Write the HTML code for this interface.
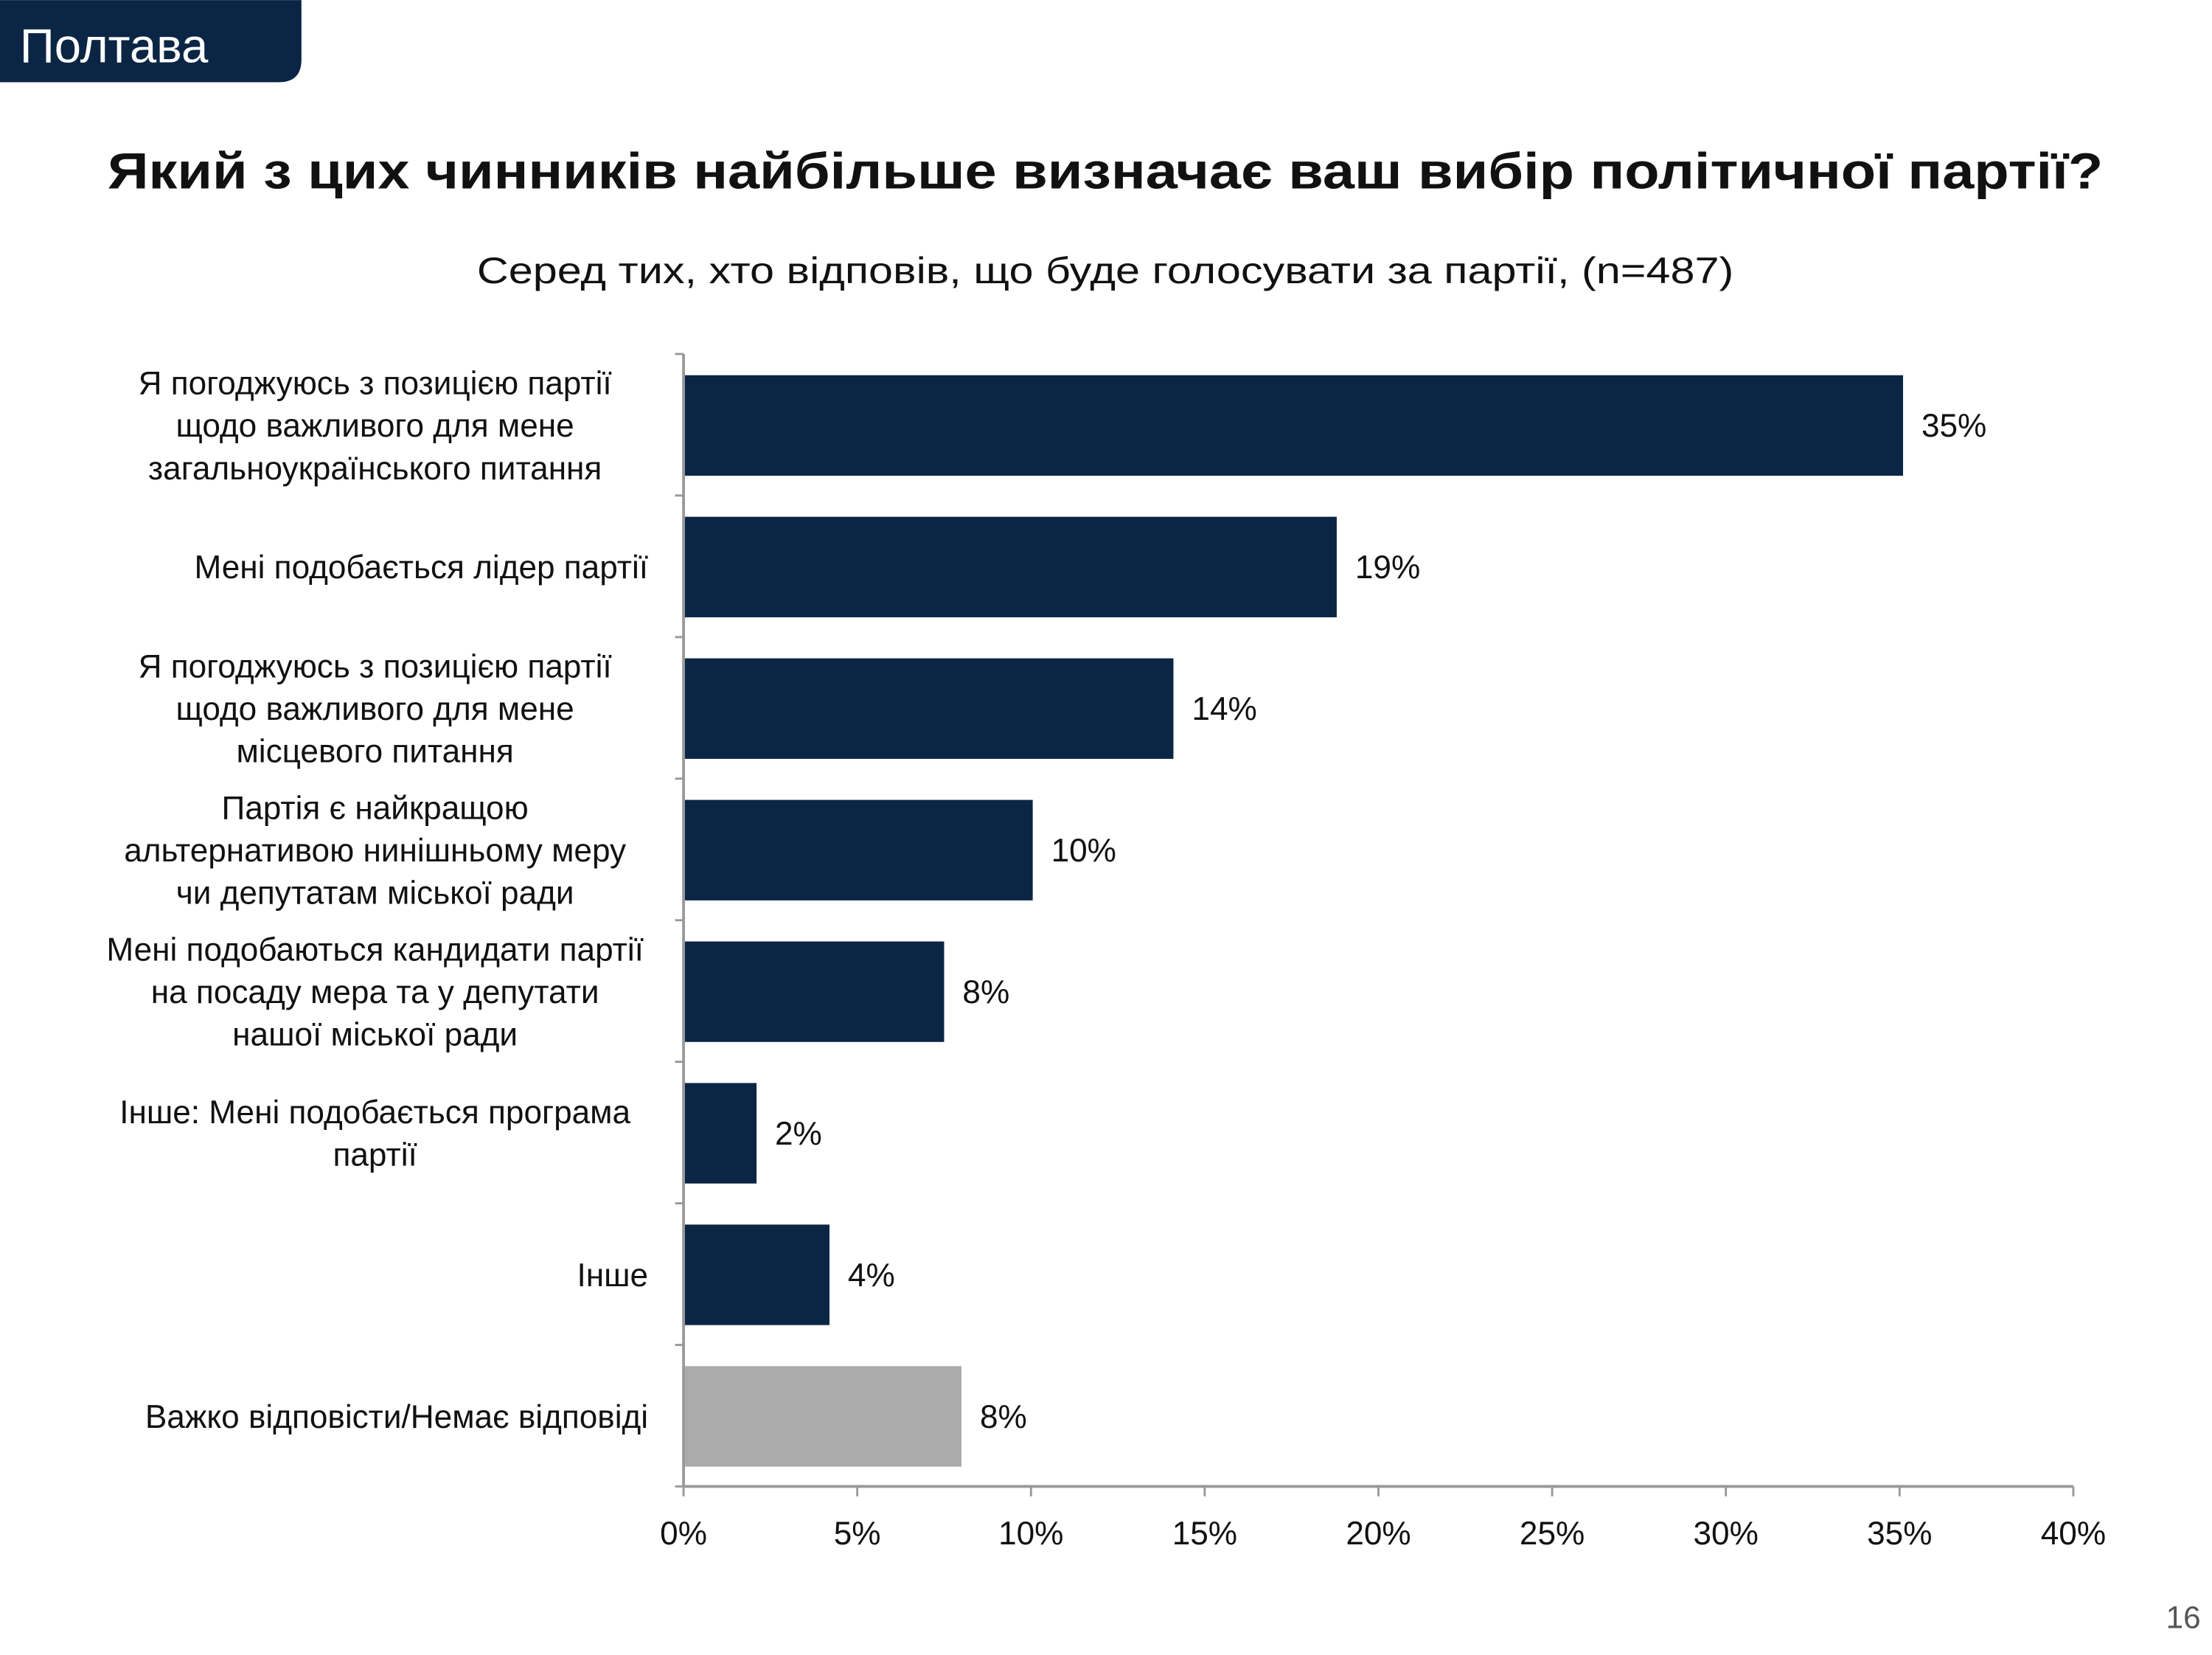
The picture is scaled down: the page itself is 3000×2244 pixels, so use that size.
<!DOCTYPE html>
<html><head><meta charset="utf-8"><style>
html,body{margin:0;padding:0;background:#fff;}
svg{display:block;font-family:"Liberation Sans","DejaVu Sans",sans-serif;}
</style></head><body>
<svg id="chart" width="3000" height="2244" viewBox="0 0 1563 1169" xmlns="http://www.w3.org/2000/svg">
<path d="M0 0 H213 V42 Q213 58 197 58 H0 Z" fill="#0b2545"/>
<text x="14" y="44" font-size="34" fill="#fff">Полтава</text>
<text x="781" y="133" font-size="36" font-weight="bold" text-anchor="middle" fill="#111" textLength="1410" lengthAdjust="spacingAndGlyphs">Який з цих чинників найбільше визначає ваш вибір політичної партії?</text>
<text x="781" y="200" font-size="26" text-anchor="middle" fill="#111" textLength="888" lengthAdjust="spacingAndGlyphs">Серед тих, хто відповів, що буде голосувати за партії, (n=487)</text>
<g id="plot"></g>
<text x="1555" y="1150" font-size="22" text-anchor="end" fill="#555">16</text>
</svg>
<script>
const categories = [
 ["Я погоджуюсь з позицією партії","щодо важливого для мене","загальноукраїнського питання"],
 ["Мені подобається лідер партії"],
 ["Я погоджуюсь з позицією партії","щодо важливого для мене","місцевого питання"],
 ["Партія є найкращою","альтернативою нинішньому меру","чи депутатам міської ради"],
 ["Мені подобаються кандидати партії","на посаду мера та у депутати","нашої міської ради"],
 ["Інше: Мені подобається програма","партії"],
 ["Інше"],
 ["Важко відповісти/Немає відповіді"]
];
const values = [35.1, 18.8, 14.1, 10.05, 7.5, 2.1, 4.2, 8.0];
const valueLabels = ["35%","19%","14%","10%","8%","2%","4%","8%"];
const tickValues = [0,5,10,15,20,25,30,35,40];
const tickLabels = ["0%","5%","10%","15%","20%","25%","30%","35%","40%"];

const NS="http://www.w3.org/2000/svg";
const plotG=document.getElementById('plot');
const X0=483, X1=1465, plotTop=250, step=100, barH=71;
const xs=v=>X0+(v/40)*(X1-X0);
const ys=i=>plotTop+i*step;
function mk(t,a){const e=document.createElementNS(NS,t);for(const k in a)e.setAttribute(k,a[k]);plotG.appendChild(e);return e;}
values.forEach((v,i)=>{
  const r=mk('rect',{x:X0,y:ys(i)+15,width:xs(v)-X0,height:barH,fill:i===values.length-1?'#ababab':'#0b2545'});
  
  
  const t=mk('text',{x:xs(v)+13,y:ys(i)+15+barH/2+8,'font-size':23,fill:'#111'});
  t.textContent=valueLabels[i];
  
  
  const lines=categories[i];
  const lh=30, cy=ys(i)+15+barH/2;
  const lab=mk('text',{'font-size':23,fill:'#111','text-anchor':'middle'});
  
  
  lines.forEach((s,j)=>{
    const ts=document.createElementNS(NS,'tspan');
    ts.setAttribute('x', lines.length===1 ? 458 : 265);
    ts.setAttribute('y', cy+8+(j-(lines.length-1)/2)*lh);
    ts.textContent=s; lab.appendChild(ts);
  });
  if(lines.length===1) lab.setAttribute('text-anchor','end');
});
for(let i=0;i<=values.length;i++){
  const l=mk('line',{x1:477,x2:X0,y1:ys(i),y2:ys(i),stroke:'#999','stroke-width':1.5});
  
  
}
const ya=mk('line',{x1:X0,x2:X0,y1:plotTop,y2:ys(values.length),stroke:'#999','stroke-width':2});


const xa=mk('line',{x1:X0,x2:X1,y1:ys(values.length),y2:ys(values.length),stroke:'#999','stroke-width':2});


tickValues.forEach((v,i)=>{
  const l=mk('line',{x1:xs(v),x2:xs(v),y1:ys(values.length),y2:ys(values.length)+7,stroke:'#999','stroke-width':1.5});
  
  
  const t=mk('text',{x:xs(v),y:1091,'font-size':23,fill:'#111','text-anchor':'middle'});
  t.textContent=tickLabels[i];
  
  
});
</script>
</body></html>
